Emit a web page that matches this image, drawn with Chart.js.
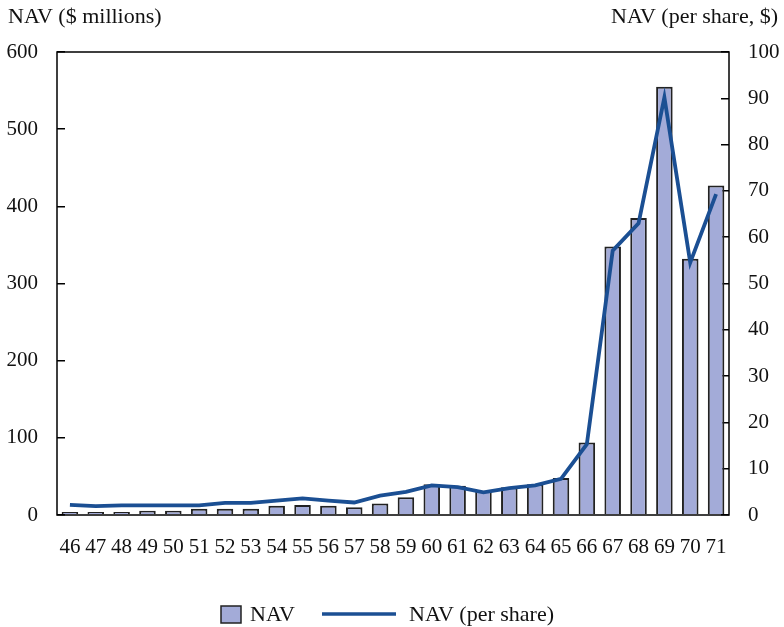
<!DOCTYPE html>
<html>
<head>
<meta charset="utf-8">
<script src="https://cdn.jsdelivr.net/npm/chart.js@4.4.1/dist/chart.umd.min.js"></script>
<style>
  html, body { margin: 0; padding: 0; background: #fff; }
  #wrap { width: 784px; height: 627px; position: relative; }
</style>
</head>
<body>
<div id="wrap"><canvas id="navChart"></canvas></div>
<script>
// Fund NAV by year
const years = ['46', '47', '48', '49', '50', '51', '52', '53', '54', '55', '56', '57', '58',
               '59', '60', '61', '62', '63', '64', '65', '66', '67', '68', '69', '70', '71'];
const navMillions = [4, 4, 4, 5.5, 5.5, 8, 8, 8, 12, 13, 12, 10, 15,
                     23, 40, 38, 31, 36, 40, 48, 94, 348, 385, 555, 332, 427];
const navPerShare = [2.2, 1.9, 2.1, 2.1, 2.1, 2.1, 2.6, 2.6, 3.1, 3.6, 3.1, 2.7, 4.2,
                     5.0, 6.4, 6.0, 4.9, 5.8, 6.4, 7.8, 15.3, 57.1, 63, 90.2, 54.5, 69.3];
const leftTicks = [0, 100, 200, 300, 400, 500, 600];
const rightTicks = [0, 10, 20, 30, 40, 50, 60, 70, 80, 90, 100];

const FONT = 'Liberation Serif, Times New Roman, serif';
const barFill = '#a3abd8';
const barEdge = '#222222';
const lineColor = '#1b4f93';

// frame, axis titles and legend
const decorations = {
    id: 'decorations',
    afterDraw(chart) {
        const ctx = chart.ctx;
        const a = chart.chartArea;
        ctx.save();
        ctx.strokeStyle = '#000';
        ctx.lineWidth = 1.5;
        ctx.strokeRect(a.left, a.top, a.right - a.left, a.bottom - a.top);

        ctx.fillStyle = '#111';
        ctx.font = '22px ' + FONT;
        ctx.textBaseline = 'middle';
        ctx.textAlign = 'left';
        ctx.fillText('NAV ($ millions)', 8, 17);
        ctx.textAlign = 'right';
        ctx.fillText('NAV (per share, $)', 778, 17);

        // legend
        const ly = 614;
        ctx.fillStyle = barFill;
        ctx.fillRect(221, 606, 20, 17);
        ctx.strokeStyle = barEdge;
        ctx.lineWidth = 1.5;
        ctx.strokeRect(221, 606, 20, 17);
        ctx.strokeStyle = lineColor;
        ctx.lineWidth = 3.5;
        ctx.beginPath();
        ctx.moveTo(322, ly);
        ctx.lineTo(396, ly);
        ctx.stroke();
        ctx.fillStyle = '#111';
        ctx.textAlign = 'left';
        ctx.fillText('NAV', 250, ly + 1);
        ctx.fillText('NAV (per share)', 409, ly + 1);
        ctx.restore();
    }
};

const tickFont = { family: FONT, size: 21 };

new Chart(document.getElementById('navChart'), {
    type: 'bar',
    data: {
        labels: years,
        datasets: [
            {
                type: 'line',
                label: 'NAV (per share)',
                data: navPerShare,
                yAxisID: 'y1',
                borderColor: lineColor,
                borderWidth: 3.8,
                pointRadius: 0,
                tension: 0,
                order: 0
            },
            {
                label: 'NAV',
                data: navMillions,
                yAxisID: 'y',
                backgroundColor: barFill,
                borderColor: barEdge,
                borderWidth: 2,
                categoryPercentage: 1,
                barPercentage: 0.64,
                order: 1
            }
        ]
    },
    options: {
        responsive: true,
        maintainAspectRatio: false,
        animation: false,
        layout: { padding: { top: 52, left: 0, right: 0, bottom: 0 } },
        plugins: {
            legend: { display: false },
            tooltip: { enabled: false }
        },
        scales: {
            x: {
                offset: true,
                grid: { display: false },
                border: { display: false },
                ticks: { color: '#111', font: tickFont, padding: 12, maxRotation: 0, autoSkip: false },
                afterFit: s => { s.height = 112; }
            },
            y: {
                position: 'left',
                min: 0,
                max: 600,
                afterBuildTicks: s => { s.ticks = leftTicks.map(v => ({ value: v })); },
                grid: { drawOnChartArea: false, tickLength: -8, color: '#000', lineWidth: 1.5 },
                border: { display: false },
                ticks: { color: '#111', font: tickFont, padding: 27 },
                afterFit: s => { s.width = 57; }
            },
            y1: {
                position: 'right',
                min: 0,
                max: 100,
                afterBuildTicks: s => { s.ticks = rightTicks.map(v => ({ value: v })); },
                grid: { drawOnChartArea: false, tickLength: -8, color: '#000', lineWidth: 1.5 },
                border: { display: false },
                ticks: { color: '#111', font: tickFont, padding: 27 },
                afterFit: s => { s.width = 55; }
            }
        }
    },
    plugins: [decorations]
});
</script>
</body>
</html>
